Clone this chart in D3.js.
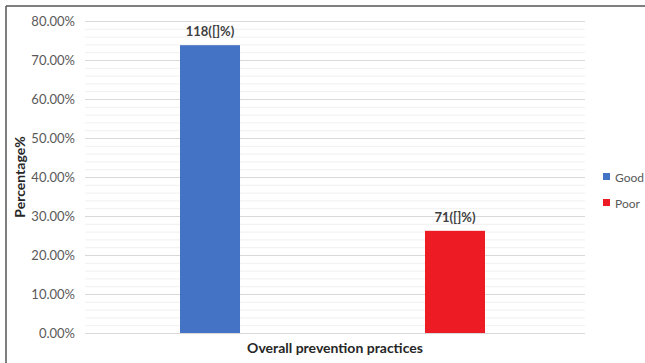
<!DOCTYPE html>
<html><head><meta charset="utf-8">
<script src="https://cdn.jsdelivr.net/npm/d3@7"></script>
<style>body{margin:0;background:#fff;} svg{display:block;font-family:Lato,"Open Sans",sans-serif;}</style>
</head><body>
<svg id="c" width="645" height="363"></svg>
<script>
const categories = ["Good", "Poor"];
const values = [73.8, 26.2];
const labels = ["118([]%)", "71([]%)"];
const colors = ["#4472C4", "#ED1C24"];
const yTicks = [0, 10, 20, 30, 40, 50, 60, 70, 80];
const xTitle = "Overall prevention practices";
const yTitle = "Percentage%";

const svg = d3.select("#c");
const W = 645, H = 363;
const x0 = 85, x1 = 585, yTop = 21, yBot = 333;

// frame
svg.append("line").attr("x1", 6).attr("x2", 6).attr("y1", 6).attr("y2", H).attr("stroke", "#555").attr("stroke-width", 1.5);
svg.append("line").attr("x1", 6).attr("x2", W).attr("y1", 6).attr("y2", 6).attr("stroke", "#555").attr("stroke-width", 1.5);

const y = d3.scaleLinear().domain([0, 80]).range([yBot, yTop]);
const x = d3.scaleBand().domain(categories).range([82, 583]).paddingInner(0.755).paddingOuter(0.4);

// minor gridlines
const minor = d3.range(0, 81, 2).filter(v => v % 10 !== 0);
svg.append("g").selectAll("line").data(minor).join("line")
  .attr("x1", x0).attr("x2", x1).attr("y1", d => y(d) + 0.5).attr("y2", d => y(d) + 0.5)
  .attr("stroke", "#f0f0f0").attr("stroke-width", 1);

// major gridlines via axis
const ax = svg.append("g").attr("transform", `translate(${x0},0)`)
  .call(d3.axisLeft(y).tickValues(yTicks).tickSize(-(x1 - x0)).tickPadding(10).tickFormat(d => d3.format(".2f")(d) + "%"));
ax.select(".domain").remove();
ax.selectAll(".tick line").attr("stroke", "#d9d9d9").attr("stroke-width", 1.2);
ax.selectAll(".tick text").attr("fill", "#595959").style("font-size", "13px").style("font-family", "Lato, sans-serif");

// bars
svg.append("g").selectAll("rect").data(categories).join("rect")
  .attr("x", d => x(d)).attr("width", x.bandwidth())
  .attr("y", (d, i) => y(values[i])).attr("height", (d, i) => yBot - y(values[i]))
  .attr("fill", (d, i) => colors[i]);

// value labels
svg.append("g").selectAll("text").data(categories).join("text")
  .attr("x", d => x(d) + x.bandwidth() / 2).attr("y", (d, i) => y(values[i]) - 9)
  .attr("text-anchor", "middle").attr("font-weight", "bold").attr("font-size", 13).attr("fill", "#404040")
  .text((d, i) => labels[i]);

// axis titles
svg.append("text").attr("x", 335).attr("y", 353).attr("text-anchor", "middle")
  .attr("font-weight", "bold").attr("font-size", 14).attr("fill", "#262626").text(xTitle);
svg.append("text").attr("transform", `translate(25,${(yTop + yBot) / 2}) rotate(-90)`).attr("text-anchor", "middle")
  .attr("font-weight", "bold").attr("font-size", 14).attr("fill", "#262626").text(yTitle);

// legend
const lg = svg.append("g").selectAll("g").data(categories).join("g")
  .attr("transform", (d, i) => `translate(603,${177 + i * 26})`);
lg.append("rect").attr("x", 0).attr("y", -4).attr("width", 7).attr("height", 7).attr("fill", (d, i) => colors[i]);
lg.append("text").attr("x", 12).attr("y", 4.5).attr("font-size", 12).attr("fill", "#595959").text(d => d);
</script>
</body></html>
